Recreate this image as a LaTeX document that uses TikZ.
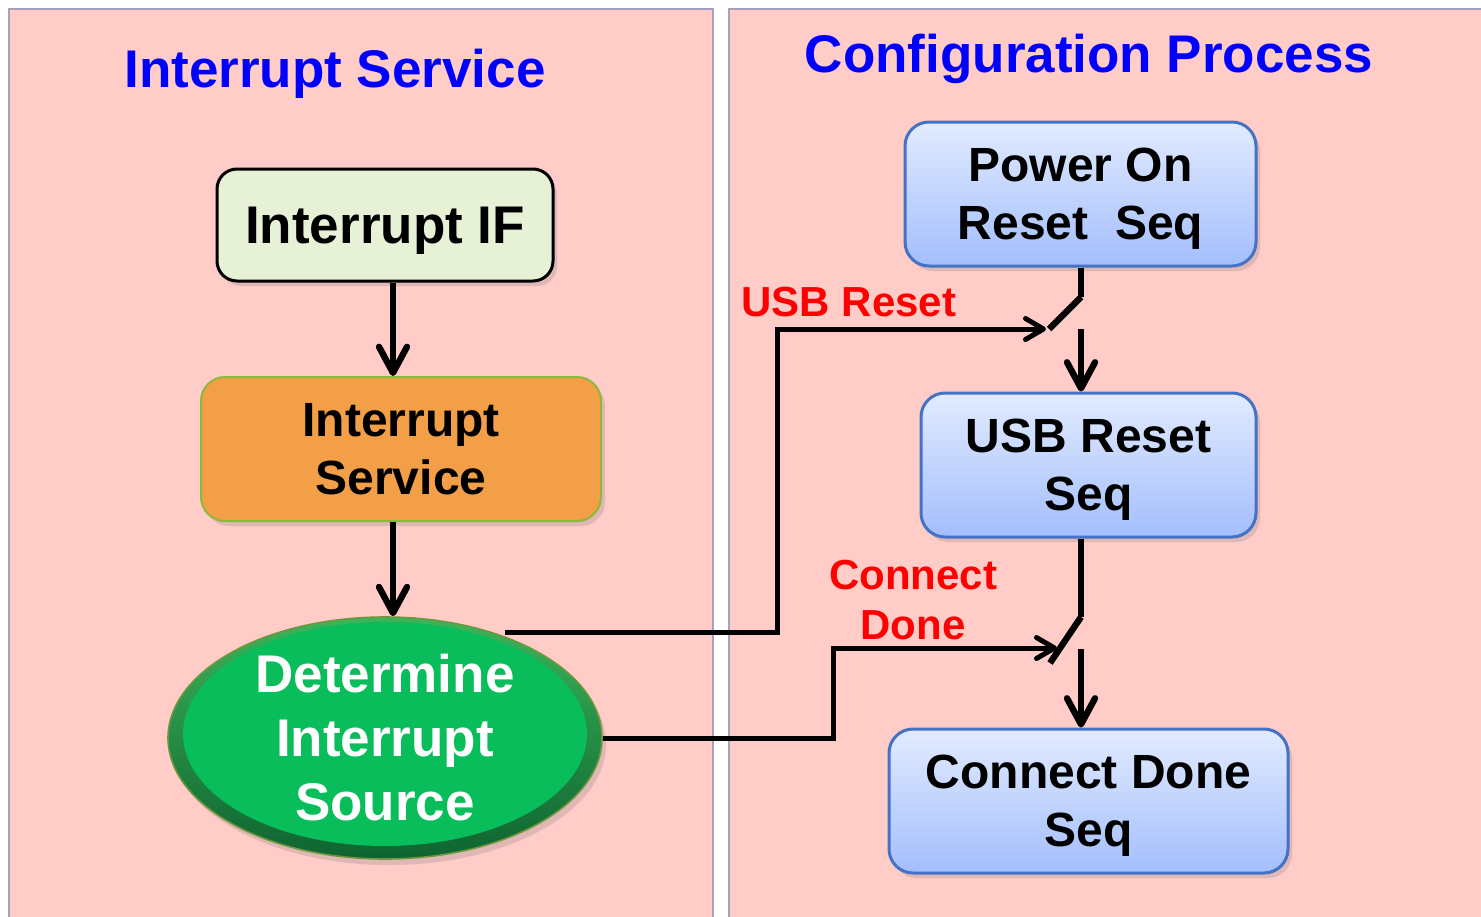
\documentclass[tikz,border=0pt]{standalone}
\usepackage{fontspec}
\setmainfont{Liberation Sans}
\usetikzlibrary{arrows.meta,shadows,shapes.geometric,calc}

\definecolor{panelpink}{RGB}{255,204,199}
\definecolor{panelline}{RGB}{165,160,190}
\definecolor{titleblue}{RGB}{0,0,255}
\definecolor{ifgreen}{RGB}{230,241,214}
\definecolor{svcorange}{RGB}{243,159,72}
\definecolor{svcline}{RGB}{140,185,60}
\definecolor{seqtop}{RGB}{226,235,255}
\definecolor{seqbot}{RGB}{163,190,252}
\definecolor{seqline}{RGB}{68,114,196}
\definecolor{srcgreen}{RGB}{8,189,90}
\definecolor{srcrimtop}{RGB}{60,180,90}
\definecolor{srcrimbot}{RGB}{14,100,48}
\definecolor{srcline}{RGB}{110,150,60}
\definecolor{labelred}{RGB}{255,0,0}

\tikzset{
  panel/.style={fill=panelpink, draw=panelline, line width=1pt},
  title/.style={font=\fontsize{26.5}{30}\selectfont\bfseries, text=titleblue, inner sep=0pt},
  lbl/.style={font=\fontsize{21}{25}\selectfont\bfseries, text=labelred, inner sep=0pt, align=center},
  box/.style={align=center, inner sep=0pt, text depth=0pt,
    font=\fontsize{24}{29}\selectfont\bfseries,
    drop shadow={opacity=0.25, shadow xshift=2pt, shadow yshift=-2.5pt}},
  seqbox/.style={box, rounded corners=12pt, top color=seqtop, bottom color=seqbot,
    draw=seqline, line width=1.5pt, minimum height=72pt},
  flow/.style={line width=3.2pt,
    -{Straight Barb[length=13pt,width=14pt,line cap=round,line join=round]}},
  wire/.style={line width=2.5pt},
  wirearrow/.style={wire,
    -{Straight Barb[length=9pt,width=10.5pt,line cap=round,line join=round]}},
  switch/.style={line width=3.2pt},
}

\begin{document}
\begin{tikzpicture}[x=0.5pt,y=-0.5pt]
  \clip (0,0) rectangle (1481,916);
  \fill[white] (0,0) rectangle (1481,916);

  % two swim lanes
  \draw[panel] (9,9) rectangle (713,940);
  \draw[panel] (729,9) rectangle (1500,940);

  \node[title, anchor=base] (ttl1) at (335,87) {Interrupt Service};
  \node[title, anchor=base] (ttl2) at (1089,72) {Configuration Process};

  % interrupt side
  \node[box, fill=ifgreen, draw=black, line width=1.5pt, rounded corners=10pt,
        font=\fontsize{26.5}{29}\selectfont\bfseries,
        minimum width=168pt, minimum height=56pt] (if) at (385,225) {Interrupt IF};
  \node[box, fill=svcorange, draw=svcline, line width=1pt, rounded corners=12pt,
        minimum width=200pt, minimum height=72pt] (svc) at (401,449) {Interrupt\\Service};
  \node[ellipse, align=center, inner sep=0pt, text=white,
        font=\fontsize{26.5}{32}\selectfont\bfseries,
        minimum width=217pt, minimum height=121pt,
        top color=srcrimtop, bottom color=srcrimbot, draw=srcline, line width=0.8pt,
        drop shadow={opacity=0.25, shadow xshift=2pt, shadow yshift=-3pt},
        path picture={\fill[srcgreen] ([yshift=2pt]path picture bounding box.center)
                        ellipse [x radius=101pt, y radius=56pt];}]
        (src) at (385,738) {Determine\\Interrupt\\Source};

  % configuration side
  \node[seqbox, minimum width=175.5pt] (por) at (1080.5,194) {Power On\\Reset\ \ Seq};
  \node[seqbox, minimum width=167.5pt] (usb) at (1088.5,465) {USB Reset\\Seq};
  \node[seqbox, minimum width=199.5pt] (cds) at (1088.5,801) {Connect Done\\Seq};

  % guide columns and switch points
  \coordinate (col1) at (393,0);
  \coordinate (col2) at (1081,0);
  \coordinate (sw1top) at (1081,297);
  \coordinate (sw1bot) at (1049,329);
  \coordinate (sw1out) at (1081,329);
  \coordinate (sw1tip) at (1046,329);
  \coordinate (bend1) at (777,329);
  \coordinate (tap1) at (505,632);
  \coordinate (sw2top) at (1081,617);
  \coordinate (sw2bot) at (1050,663);
  \coordinate (sw2out) at (1081,649);
  \coordinate (sw2tip) at (1057,648);
  \coordinate (bend2) at (833,648);

  % interrupt flow
  \draw[flow] (if.south -| col1) -- (svc.north -| col1);
  \draw[flow] (svc.south -| col1) -- (src.north -| col1);

  % switched sequence flow
  \draw[switch, line cap=butt] (por.south -| col2) -- (sw1top);
  \draw[switch, line cap=butt] (sw1top) -- (sw1bot);
  \draw[flow] (sw1out) -- (usb.north -| col2);
  \draw[switch, line cap=butt] (usb.south -| col2) -- (sw2top);
  \draw[switch, line cap=butt] (sw2top) -- (sw2bot);
  \draw[flow] (sw2out) -- (cds.north -| col2);

  % event wires
  \draw[wirearrow] (tap1) -| (bend1) -- (sw1tip);
  \draw[wirearrow] (src.east) -| (bend2) -- (sw2tip);

  \node[lbl, anchor=base] (lab1) at (849,316) {USB Reset};
  \node[lbl] (lab2) at (913,600) {Connect\\Done};
\end{tikzpicture}
\end{document}
